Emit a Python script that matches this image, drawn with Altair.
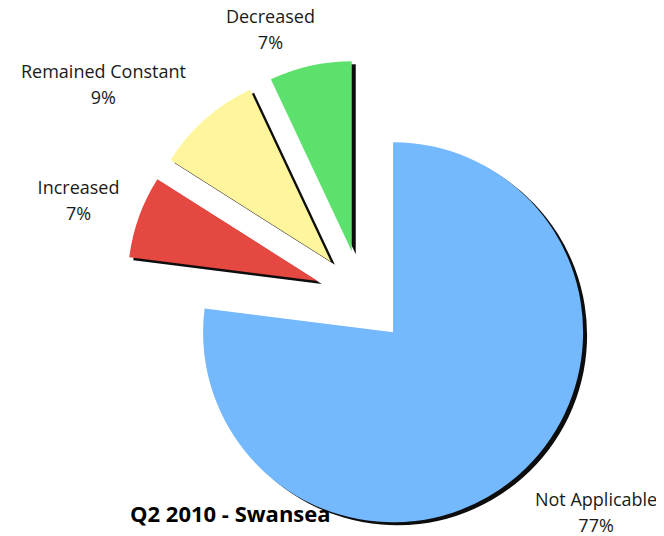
import math
import altair as alt
import pandas as pd

# ---- data ----
categories = ["Not Applicable", "Increased", "Remained Constant", "Decreased"]
values = [77, 7, 9, 7]
colors = ["#74B8FD", "#E54741", "#FFF59D", "#5CE26C"]
pct_labels = ["77%", "7%", "9%", "7%"]
title_text = "Q2 2010 - Swansea"

# label anchor positions (first-line baseline, in pie-radius units, relative to pie centre)
label_x = [1.232, -1.492, -1.361, -0.482]
label_y = [-1.100, 0.542, 1.155, 1.442]
title_x = [-1.221]
title_y = [-1.184]

# ---- layout / style ----
W, H = 648, 528
R = 190            # pie radius in px
CX, CY = 354, 289  # pie centre inside view (px)
EXPLODE = 47 / R   # explosion distance in radius units
SHX, SHY = 4 / R, 3 / R

xdom = [-CX / R, (W - CX) / R]
ydom = [-(H - CY) / R, CY / R]

df = pd.DataFrame({
    "category": categories,
    "value": values,
    "order": list(range(len(categories))),
    "label": [f"{c}\n{p}" for c, p in zip(categories, pct_labels)],
    "lx": label_x,
    "ly": label_y,
})
tdf = pd.DataFrame({"t": [title_text], "tx": title_x, "ty": title_y})

xs = alt.Scale(domain=xdom, nice=False, zero=False)
ys = alt.Scale(domain=ydom, nice=False, zero=False)
thscale = alt.Scale(domain=[0, 1], range=[0, 2 * math.pi])
cscale = alt.Scale(domain=categories, range=colors)

base = (
    alt.Chart(df)
    .transform_window(cum="sum(value)", sort=[alt.SortField("order")], frame=[None, 0])
    .transform_joinaggregate(total="sum(value)")
    .transform_calculate(
        t0="(datum.cum - datum.value) / datum.total",
        t1="datum.cum / datum.total",
        mid="(datum.cum - datum.value / 2) / datum.total * 2 * PI",
    )
    .transform_calculate(
        ex=f"sin(datum.mid) * {EXPLODE}",
        ey=f"cos(datum.mid) * {EXPLODE}",
    )
    .transform_calculate(
        sx=f"datum.ex + {SHX}",
        sy=f"datum.ey - {SHY}",
    )
)

shadow = base.mark_arc(radius=R, color="black", opacity=0.95).encode(
    theta=alt.Theta("t0:Q", scale=thscale, stack=False),
    theta2="t1:Q",
    x=alt.X("sx:Q", scale=xs, axis=None),
    y=alt.Y("sy:Q", scale=ys, axis=None),
)

slices = base.mark_arc(radius=R).encode(
    theta=alt.Theta("t0:Q", scale=thscale, stack=False),
    theta2="t1:Q",
    x=alt.X("ex:Q", scale=xs, axis=None),
    y=alt.Y("ey:Q", scale=ys, axis=None),
    color=alt.Color("category:N", scale=cscale, legend=None),
)

labels = alt.Chart(df).mark_text(
    font="Open Sans", fontSize=18, color="#1a1a1a", lineBreak="\n",
    lineHeight=26, align="center", baseline="alphabetic",
).encode(
    x=alt.X("lx:Q", scale=xs, axis=None),
    y=alt.Y("ly:Q", scale=ys, axis=None),
    text="label:N",
)

title = alt.Chart(tdf).mark_text(
    font="Open Sans", fontSize=22, fontWeight="bold", color="black",
    align="left", baseline="alphabetic",
).encode(
    x=alt.X("tx:Q", scale=xs, axis=None),
    y=alt.Y("ty:Q", scale=ys, axis=None),
    text="t:N",
)

chart = (
    alt.layer(title, shadow, slices, labels)
    .properties(width=W, height=H, padding=0,
                autosize=alt.AutoSizeParams(type="none"))
    .configure_view(stroke=None)
)

chart.save("out.html", embed_options={"renderer": "svg", "actions": False})
